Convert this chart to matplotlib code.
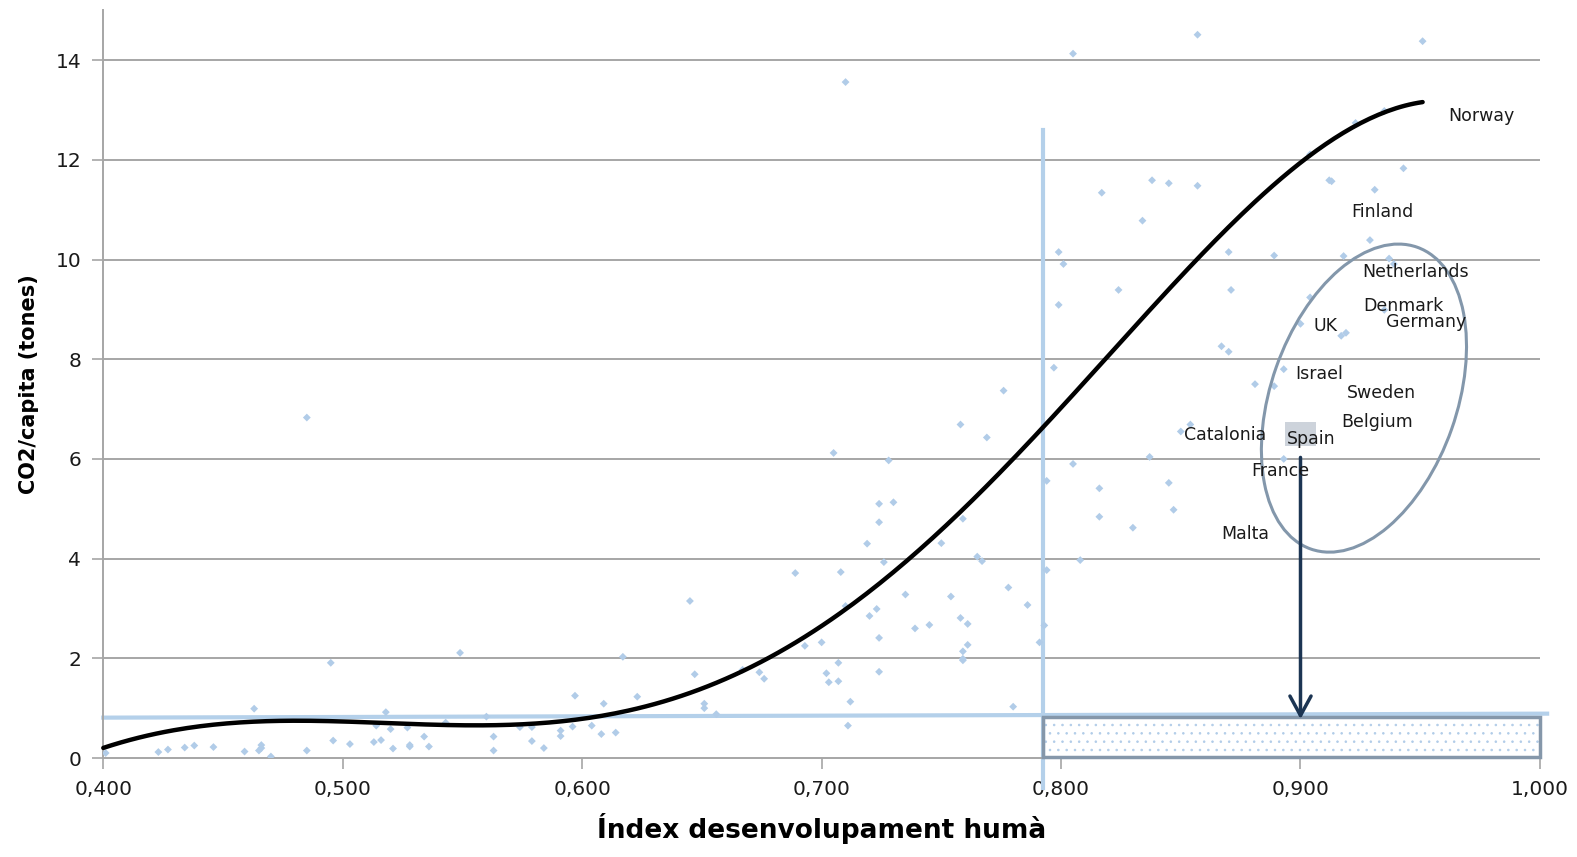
import numpy as np
import matplotlib
matplotlib.use("Agg")
import matplotlib.pyplot as plt
from matplotlib.patches import Ellipse, Rectangle
from matplotlib.transforms import ScaledTranslation

plt.rcParams["hatch.linewidth"] = 0.6

# ---------------- data ----------------
hdi = [0.401, 0.423, 0.427, 0.434, 0.438, 0.446, 0.459, 0.463, 0.466, 0.465, 0.466, 0.470,
       0.485, 0.495, 0.496, 0.503, 0.513, 0.516, 0.518, 0.514, 0.520, 0.521, 0.527, 0.528,
       0.528, 0.534, 0.536, 0.543, 0.549, 0.560, 0.563, 0.563, 0.574, 0.579, 0.579, 0.584,
       0.591, 0.591, 0.596, 0.597, 0.604, 0.608, 0.609, 0.614, 0.485,
       0.617, 0.623, 0.645, 0.647, 0.651, 0.651, 0.656, 0.667, 0.674, 0.676, 0.689, 0.693,
       0.700, 0.702, 0.703, 0.705, 0.707, 0.707, 0.708, 0.710, 0.711, 0.712, 0.719, 0.720,
       0.723, 0.724, 0.724, 0.724, 0.724, 0.726, 0.728, 0.730, 0.735, 0.739, 0.745, 0.750,
       0.754, 0.758, 0.758, 0.759, 0.759, 0.759, 0.759, 0.761, 0.761, 0.765, 0.767, 0.769,
       0.778, 0.780, 0.786, 0.791, 0.794, 0.794, 0.793,
       0.805, 0.857, 0.710, 0.817, 0.838, 0.845, 0.857, 0.834, 0.799, 0.801, 0.824, 0.799,
       0.797, 0.776,
       0.816, 0.816, 0.808, 0.830, 0.845, 0.847, 0.805,
       0.951, 0.935, 0.923, 0.904, 0.943, 0.912, 0.913, 0.931, 0.870, 0.889, 0.929, 0.918,
       0.937, 0.939, 0.871, 0.904, 0.900, 0.917, 0.919, 0.935, 0.867, 0.870, 0.893, 0.881,
       0.889, 0.854, 0.850, 0.837, 0.893]
co2 = [0.10, 0.12, 0.17, 0.21, 0.25, 0.22, 0.13, 0.99, 0.26, 0.15, 0.20, 0.03,
       0.15, 1.91, 0.35, 0.28, 0.32, 0.36, 0.92, 0.65, 0.58, 0.19, 0.61, 0.26,
       0.23, 0.43, 0.23, 0.71, 2.11, 0.83, 0.43, 0.15, 0.62, 0.62, 0.34, 0.20,
       0.55, 0.44, 0.63, 1.25, 0.65, 0.48, 1.09, 0.51, 6.83,
       2.03, 1.23, 3.15, 1.68, 1.09, 1.00, 0.88, 1.77, 1.72, 1.59, 3.71, 2.25,
       2.32, 1.70, 1.52, 6.12, 1.91, 1.54, 3.73, 3.05, 0.65, 1.13, 4.30, 2.85,
       2.99, 5.10, 4.73, 2.41, 1.73, 3.93, 5.97, 5.13, 3.28, 2.60, 2.67, 4.31,
       3.24, 6.69, 2.81, 4.80, 2.14, 1.96, 1.99, 2.69, 2.27, 4.04, 3.95, 6.43,
       3.42, 1.03, 3.07, 2.32, 5.56, 3.77, 2.66,
       14.13, 14.51, 13.56, 11.34, 11.59, 11.53, 11.48, 10.78, 10.15, 9.91, 9.39, 9.09,
       7.83, 7.37,
       5.41, 4.84, 3.97, 4.62, 5.52, 4.98, 5.90,
       14.38, 12.98, 12.74, 12.11, 11.83, 11.59, 11.57, 11.40, 10.15, 10.08, 10.39, 10.07,
       10.02, 9.91, 9.39, 9.24, 8.71, 8.47, 8.53, 8.99, 8.26, 8.15, 7.80, 7.50,
       7.46, 6.69, 6.55, 6.04, 6.00]

# points
trend_x = [0.400, 0.4265, 0.463, 0.482, 0.510, 0.538, 0.556, 0.580, 0.600, 0.616,
           0.649, 0.677, 0.705, 0.733, 0.760, 0.781, 0.795, 0.805, 0.829, 0.857,
           0.884, 0.904, 0.923, 0.935, 0.951]
trend_y = [0.20, 0.53, 0.73, 0.77, 0.72, 0.65, 0.63, 0.68, 0.80, 0.91,
           1.40, 2.00, 2.87, 3.83, 5.00, 6.00, 6.70, 7.21, 8.78, 10.05,
           11.25, 12.05, 12.65, 12.98, 13.17]

spain_hdi, spain_co2 = 0.900, 6.50
limit_co2 = [0.81, 0.89]      # sustainable CO2 level line (start, end)
limit_hdi = 0.7925            # HDI threshold line
arrow_from, arrow_to = 6.03, 0.78

labels = ["Norway", "Finland", "Netherlands", "Denmark", "Germany", "UK", "Israel",
          "Sweden", "Belgium", "Catalonia", "Spain", "France", "Malta"]
label_x = [0.9757, 0.934, 0.948, 0.943, 0.9526, 0.9105, 0.908, 0.934, 0.932, 0.8685,
           0.9046, 0.8916, 0.877]
label_y = [12.88, 10.95, 9.75, 9.07, 8.74, 8.66, 7.70, 7.32, 6.74, 6.48, 6.40, 5.76, 4.49]

xticks = [0.4, 0.5, 0.6, 0.7, 0.8, 0.9, 1.0]
xticklabels = ["0,400", "0,500", "0,600", "0,700", "0,800", "0,900", "1,000"]
yticks = [0, 2, 4, 6, 8, 10, 12, 14]

# ---------------- figure ----------------
fig = plt.figure(figsize=(15.77, 8.57), dpi=100)
ax = fig.add_axes([0.0655, 0.1155, 0.9110, 0.8725])
ax.set_xlim(0.4, 1.0)
ax.set_ylim(0, 15)

grid_c = "#a6a6a6"
for t in yticks[1:]:
    ax.axhline(t, color=grid_c, lw=1.4, zorder=1)

for s in ["top", "right"]:
    ax.spines[s].set_visible(False)
ax.spines["left"].set_color(grid_c)
ax.spines["bottom"].set_color(grid_c)
ax.spines["left"].set_linewidth(1.4)
ax.spines["bottom"].set_linewidth(1.4)

ax.set_xticks(xticks)
ax.set_xticklabels(xticklabels)
ax.set_yticks(yticks)
ax.tick_params(axis="both", colors=grid_c, length=8, width=1.2, labelcolor="#1a1a1a",
               labelsize=14.5)
ax.tick_params(axis="x", pad=8)
ax.tick_params(axis="y", pad=8)

# scatter
ax.scatter(hdi, co2, marker="D", s=16, color="#b1cce8", edgecolors="none", zorder=3)

# dotted box (sustainable zone)
box_w = 1.0 - limit_hdi
ax.add_patch(Rectangle((limit_hdi, 0.02), box_w, 0.81, facecolor="none",
                       edgecolor="#b1cce8", lw=0, hatch="..", zorder=2))
ax.add_patch(Rectangle((limit_hdi, 0.02), box_w, 0.81, facecolor="none",
                       edgecolor="#8597aa", lw=2.5, zorder=4, clip_on=False))

# reference lines
ax.plot([0.4, 1.003], limit_co2, color="#b4d0ea", lw=3, zorder=2, clip_on=False)
ax.plot([limit_hdi, limit_hdi], [-0.6, 12.6], color="#b4d0ea", lw=3, zorder=2,
        clip_on=False)

# trend line (polynomial through points read on the curve)
coef = np.polyfit(trend_x, trend_y, 6)
xs = np.linspace(trend_x[0], trend_x[-1], 300)
ax.plot(xs, np.polyval(coef, xs), color="black", lw=3.2, zorder=5, clip_on=False,
        solid_capstyle="round")

# Spain highlight
ax.add_patch(Rectangle((spain_hdi - 0.0065, spain_co2 - 0.24), 0.013, 0.48,
                       facecolor="#cdd3db", edgecolor="none", zorder=4))

# ellipse around European countries (drawn in screen units)
ell_tr = fig.dpi_scale_trans + ScaledTranslation(0.9265, 7.22, ax.transData)
ax.add_patch(Ellipse((0, 0), 1.86, 3.20, angle=-19.4, transform=ell_tr,
                     facecolor="none", edgecolor="#8397ab", lw=2.2, zorder=6))

# arrow
ax.annotate("", xy=(spain_hdi, arrow_to), xytext=(spain_hdi, arrow_from),
            arrowprops=dict(arrowstyle="->,head_length=0.7,head_width=0.38",
                            mutation_scale=20, lw=2.5, color="#1c3553",
                            shrinkA=0, shrinkB=0), zorder=7)

# country labels
for name, lx, ly in zip(labels, label_x, label_y):
    ax.text(lx, ly, name, ha="center", va="center", fontsize=12.5, color="#1a1a1a",
            zorder=8)

label_font = ["Liberation Sans Narrow", "DejaVu Sans"]
ax.set_xlabel("Índex desenvolupament humà", fontsize=19, fontweight="bold",
              family=label_font, labelpad=10)
ax.set_ylabel("CO2/capita (tones)", fontsize=15, fontweight="bold",
              family=label_font, labelpad=12)

fig.savefig("out.png", dpi=100)
